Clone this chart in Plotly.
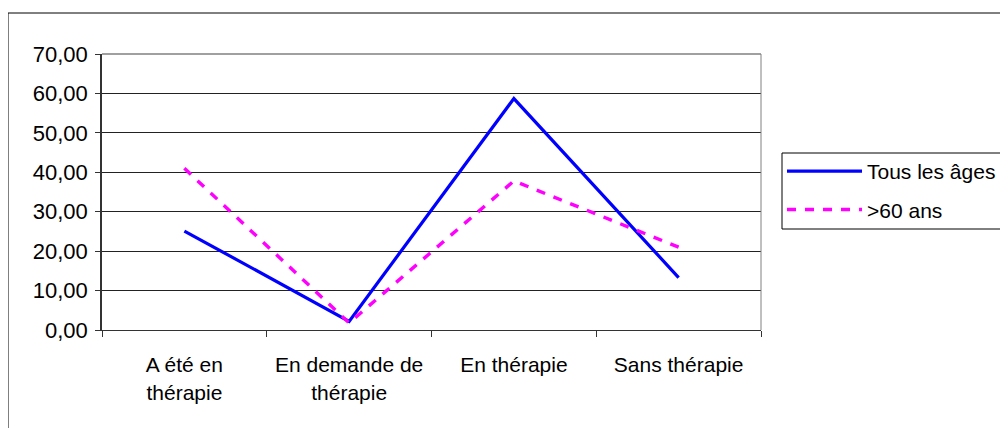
import plotly.graph_objects as go

categories = ["A été en<br>thérapie", "En demande de<br>thérapie", "En thérapie", "Sans thérapie"]
tous_les_ages = [25.1, 2.2, 58.7, 13.3]
plus_60 = [41.0, 1.8, 37.8, 21.0]
y_ticks = [0, 10, 20, 30, 40, 50, 60, 70]
y_labels = ["0,00", "10,00", "20,00", "30,00", "40,00", "50,00", "60,00", "70,00"]

OFF = 8  # page body margin
W, H = 1008 - OFF, 428 - OFF
L, R, T, B = 102 - OFF, 761 - OFF, 54 - OFF, 330 - OFF

fig = go.Figure()
fig.add_trace(go.Scatter(x=categories, y=tous_les_ages, mode="lines", name="Tous les âges",
                         legendgroup="a",
                         line=dict(color="#0000FF", width=3.2)))
fig.add_trace(go.Scatter(x=categories, y=plus_60, mode="lines", name=">60 ans",
                         legendgroup="b",
                         line=dict(color="#FF00FF", width=3.4, dash="9px,9px")))

def px_x(x):
    return (x - OFF - L) / (R - L)

def px_y(y):
    return (B - (y - OFF)) / (B - T)

fig.update_layout(
    width=W, height=H,
    margin=dict(l=L, r=W - R, t=T, b=H - B, pad=0, autoexpand=False),
    paper_bgcolor="white", plot_bgcolor="white",
    font=dict(family="Liberation Sans, Arial, sans-serif", size=21, color="black"),
    showlegend=True,
    legend=dict(x=px_x(782), y=px_y(151), xanchor="left", yanchor="top",
                borderwidth=0, bgcolor="rgba(0,0,0,0)",
                font=dict(size=21), itemwidth=75, tracegroupgap=8,
                traceorder="grouped"),
    xaxis=dict(type="category", range=[-0.5, 3.5], tickson="boundaries",
               ticks="outside", ticklen=6, tickcolor="#333", showgrid=False,
               showline=True, linecolor="#333", linewidth=1, zeroline=False,
               fixedrange=True, ticklabelstandoff=16, tickfont=dict(size=21)),
    yaxis=dict(range=[0, 70], tickvals=y_ticks, ticktext=y_labels,
               ticks="outside", ticklen=5, tickcolor="#333",
               showgrid=True, gridcolor="#222", gridwidth=1,
               showline=True, linecolor="#333", linewidth=1.5, zeroline=False,
               fixedrange=True, tickfont=dict(size=22), ticklabelstandoff=3),
    shapes=[
        dict(type="line", xref="paper", yref="paper", x0=0, x1=1, y0=1, y1=1,
             line=dict(color="#808080", width=1.5)),
        dict(type="line", xref="paper", yref="paper", x0=1, x1=1, y0=0, y1=1,
             line=dict(color="#808080", width=1)),
        # outer chart border
        dict(type="rect", xref="paper", yref="paper",
             x0=px_x(8), x1=px_x(1030), y0=px_y(440), y1=px_y(13),
             line=dict(color="black", width=1), layer="below"),
        # legend box
        dict(type="rect", xref="paper", yref="paper",
             x0=px_x(782), x1=px_x(1030), y0=px_y(229), y1=px_y(153),
             line=dict(color="black", width=1), fillcolor="white", layer="below"),
    ],
)

fig.write_html("out.html")
